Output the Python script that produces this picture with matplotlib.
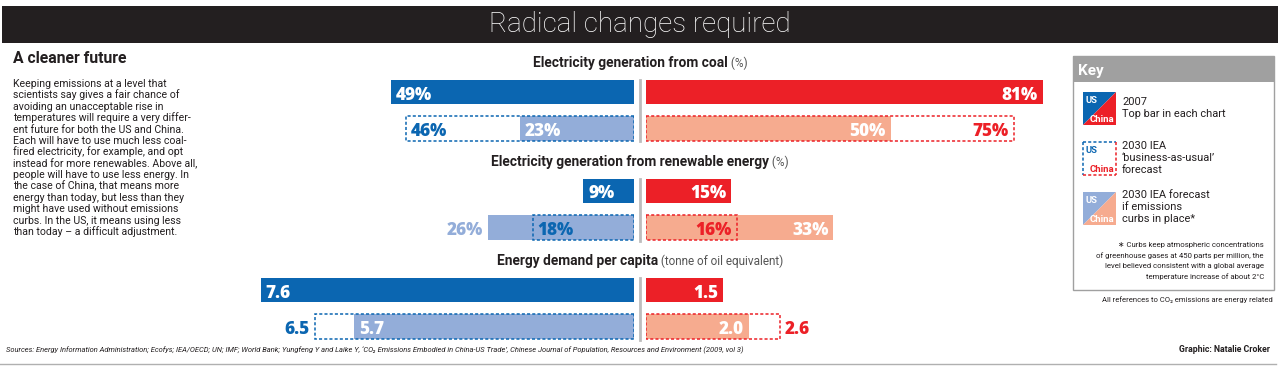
import matplotlib
matplotlib.use("Agg")
import matplotlib.pyplot as plt
from matplotlib.patches import Rectangle, Polygon
from matplotlib.lines import Line2D
from matplotlib import font_manager as fm

# ---------------- data ----------------
section_titles = ["Electricity generation from coal",
                  "Electricity generation from renewable energy",
                  "Energy demand per capita"]
section_units = ["(%)", "(%)", "(tonne of oil equivalent)"]
row_names = ["2007", "2030 business-as-usual", "2030 curbs in place"]
coal_us = [49, 46, 23]
coal_cn = [81, 75, 50]
renew_us = [9, 18, 26]
renew_cn = [15, 16, 33]
energy_us = [7.6, 6.5, 5.7]
energy_cn = [1.5, 2.6, 2.0]

# ---------------- style ----------------
W, H = 1281, 369
US_DARK, CN_DARK = "#0b66b1", "#ec2027"
US_LIGHT, CN_LIGHT = "#93add9", "#f6ab8f"
INK = "#231f20"

avail = {f.name for f in fm.fontManager.ttflist}
def pick(*names):
    for n in names:
        if n in avail:
            return n
    return "DejaVu Sans"
NARROW = pick("Liberation Sans Narrow", "DejaVu Sans Condensed", "Roboto")
BOLD = pick("Roboto", "Lato", "DejaVu Sans")
HEAVY = pick("Open Sans", "Roboto", "DejaVu Sans")
LIGHT = pick("Roboto", "Lato", "DejaVu Sans")
NARROW_LIST = [NARROW, "DejaVu Sans"]

fig = plt.figure(figsize=(W / 100, H / 100), dpi=100)
fig.patch.set_facecolor("white")

def fx(x):
    return x / W
def fy(y):
    return 1 - y / H

def ftext(x, y, s, **kw):
    kw.setdefault("va", "baseline")
    return fig.text(fx(x), fy(y), s, **kw)

# ---------------- header ----------------
fig.add_artist(Rectangle((fx(2), fy(43)), fx(1276), 37 / H, transform=fig.transFigure,
                         color=INK, lw=0))
ftext(640, 32, "Radical changes required", color="white", fontsize=20,
      family=LIGHT, weight="light", ha="center")

# ---------------- left text ----------------
ftext(13, 63, "A cleaner future", fontsize=11.3, weight="bold", family=BOLD, color=INK)
body = ["Keeping emissions at a level that",
        "scientists say gives a fair chance of",
        "avoiding an unacceptable rise in",
        "temperatures will require a very differ-",
        "ent future for both the US and China.",
        "Each will have to use much less coal-",
        "fired electricity, for example, and opt",
        "instead for more renewables. Above all,",
        "people will have to use less energy. In",
        "the case of China, that means more",
        "energy than today, but less than they",
        "might have used without emissions",
        "curbs. In the US, it means using less",
        "than today \u2013 a difficult adjustment."]
for i, line in enumerate(body):
    ftext(13, 87 + 11.4 * i, line, fontsize=7.6, family=NARROW_LIST, color=INK)

# ---------------- bar sections ----------------
sections = [
    (section_titles[0], section_units[0], coal_us, coal_cn, "{:.0f}%", 4.96, 4.90),
    (section_titles[1], section_units[1], renew_us, renew_cn, "{:.0f}%", 5.63, 5.68),
    (section_titles[2], section_units[2], energy_us, energy_cn, "{:.1f}", 49.1, 51.5),
]
# label placement for the 2030 row: (bau, curbs) -> 'in' / 'out'
us_place = [("in", "in"), ("in", "out"), ("out", "in")]
cn_place = [("in", "in"), ("in", "in"), ("out", "in")]

ROW_CENTERS = [92, 191, 290]
ROW_GAP = 36.5
BAR_H = 24.5 / ROW_GAP
US_RIGHT, CN_LEFT = 634, 646
US_W, CN_W = 400, 420
DASH = (0, (2.0, 1.4))
LBL_FS = 12.3

renderer = fig.canvas.get_renderer()

for k, (title, unit, us, cn, fmt, s_us, s_cn) in enumerate(sections):
    yc = ROW_CENTERS[k]
    top = yc - ROW_GAP / 2
    bot = yc + ROW_GAP * 1.5
    ax_us = fig.add_axes([fx(US_RIGHT - US_W), fy(bot), US_W / W, (bot - top) / H])
    ax_cn = fig.add_axes([fx(CN_LEFT), fy(bot), CN_W / W, (bot - top) / H])
    ax_us.set_xlim(US_W / s_us, 0)
    ax_cn.set_xlim(0, CN_W / s_cn)
    for ax, vals, dark, light, place, side in ((ax_us, us, US_DARK, US_LIGHT, us_place[k], -1),
                                               (ax_cn, cn, CN_DARK, CN_LIGHT, cn_place[k], 1)):
        ax.set_ylim(1.5, -0.5)
        ax.axis("off")
        ax.patch.set_alpha(0)
        ax.barh(0, vals[0], height=BAR_H, color=dark, lw=0)
        ax.barh(1, vals[2], height=BAR_H, color=light, lw=0)
        ax.barh(1, vals[1], height=BAR_H, fill=False, edgecolor=dark, lw=1.1, linestyle=DASH)

        def label(v, row, color, where):
            if side < 0:
                dx, ha = (5, "left") if where == "in" else (-5, "right")
            else:
                dx, ha = (-5, "right") if where == "in" else (5, "left")
            ax.annotate(fmt.format(v), xy=(v, row), xytext=(dx, -7.5), textcoords="offset pixels",
                        ha=ha, va="baseline", color=color, fontsize=LBL_FS,
                        weight="extra bold", family=HEAVY, annotation_clip=False)
        label(vals[0], 0, "white", "in")
        bau_where, curbs_where = place
        label(vals[1], 1, dark, bau_where)
        label(vals[2], 1, "white" if curbs_where == "in" else light, curbs_where)

    # centre divider
    fig.add_artist(Line2D([fx(640), fx(640)], [fy(yc - 12.5), fy(yc + ROW_GAP + 13)],
                          transform=fig.transFigure, color="#bdbdbd", lw=2))
    # title
    ty = yc - 24.5
    t1 = ftext(0, ty, title, fontsize=9.9, weight="bold", family=BOLD, color=INK)
    t2 = ftext(0, ty, " " + unit, fontsize=8.5, family=NARROW_LIST, color="#555555")
    w1 = t1.get_window_extent(renderer).width
    w2 = t2.get_window_extent(renderer).width
    x0 = 640 - (w1 + w2) / 2
    t1.set_x(fx(x0))
    t2.set_x(fx(x0 + w1))

# ---------------- key ----------------
KX0, KX1, KY0, KY1 = 1073, 1274, 56, 290
fig.add_artist(Rectangle((fx(KX0), fy(KY1)), (KX1 - KX0) / W, (KY1 - KY0) / H,
                         transform=fig.transFigure, facecolor="white", edgecolor="#a0a0a0", lw=1))
fig.add_artist(Rectangle((fx(KX0), fy(82)), (KX1 - KX0) / W, (82 - KY0) / H,
                         transform=fig.transFigure, facecolor="#a0a0a0", lw=0))
ftext(1078, 75, "Key", fontsize=11, weight="bold", family=BOLD, color="white")

IX0, IX1 = 1083, 1116
def icon_solid(y0, c_us, c_cn):
    y1 = y0 + 33
    fig.add_artist(Polygon([(fx(IX0), fy(y0)), (fx(IX1), fy(y0)), (fx(IX0), fy(y1))],
                           closed=True, transform=fig.transFigure, color=c_us, lw=0))
    fig.add_artist(Polygon([(fx(IX1), fy(y0)), (fx(IX1), fy(y1)), (fx(IX0), fy(y1))],
                           closed=True, transform=fig.transFigure, color=c_cn, lw=0))
    ftext(IX0 + 3, y0 + 11, "US", fontsize=6.8, weight="bold", family=BOLD, color="white")
    ftext(IX1 - 2, y1 - 3, "China", fontsize=6.8, weight="bold", family=BOLD, color="white", ha="right")

def icon_dashed(y0):
    y1 = y0 + 33
    for xs, ys, c in (((IX0, IX1), (y0, y0), US_DARK), ((IX0, IX0), (y0, y1), US_DARK),
                      ((IX0, IX1), (y1, y1), CN_DARK), ((IX1, IX1), (y0, y1), CN_DARK)):
        fig.add_artist(Line2D([fx(v) for v in xs], [fy(v) for v in ys], transform=fig.transFigure,
                              color=c, lw=1.1, linestyle=DASH))
    ftext(IX0 + 3, y0 + 11, "US", fontsize=6.8, weight="bold", family=BOLD, color=US_DARK)
    ftext(IX1 - 2, y1 - 3, "China", fontsize=6.8, weight="bold", family=BOLD, color=CN_DARK, ha="right")

icon_solid(92, US_DARK, CN_DARK)
icon_dashed(142)
icon_solid(192, US_LIGHT, CN_LIGHT)

KT = 1122
for y, s in ((105, "2007"), (117, "Top bar in each chart"),
             (149, "2030 IEA"), (161, "\u2018business-as-usual\u2019"), (173, "forecast"),
             (198, "2030 IEA forecast"), (210, "if emissions"), (222, "curbs in place*")):
    ftext(KT, y, s, fontsize=7.9, family=NARROW_LIST, color=INK)

foot = ["\u2217 Curbs keep atmospheric concentrations",
        "of greenhouse gases at 450 parts per million, the",
        "level believed consistent with a global average",
        "temperature increase of about 2\u00b0C"]
for i, s in enumerate(foot):
    ftext(1264, 247 + 10.7 * i, s, fontsize=5.6, family=NARROW_LIST, color=INK, ha="right")

ftext(1273, 302, "All references to CO\u2082 emissions are energy related", fontsize=5.5,
      family=NARROW_LIST, color=INK, ha="right")

# ---------------- footer ----------------
ftext(6, 352, "Sources: Energy Information Administration; Ecofys; IEA/OECD; UN; IMF; World Bank; "
      "Yungfeng Y and Laike Y, \u2018CO\u2082 Emissions Embodied in China-US Trade\u2019, Chinese Journal "
      "of Population, Resources and Environment (2009, vol 3)",
      fontsize=5.45, family=NARROW_LIST, style="italic", color=INK)
ftext(1270, 352, "Graphic: Natalie Croker", fontsize=6.3, family=NARROW_LIST, weight="bold",
      color=INK, ha="right")
fig.add_artist(Line2D([fx(0), fx(1276)], [fy(364), fy(364)], transform=fig.transFigure,
                      color="#b0b0b0", lw=1))

fig.savefig("out.png", dpi=100, facecolor="white")
